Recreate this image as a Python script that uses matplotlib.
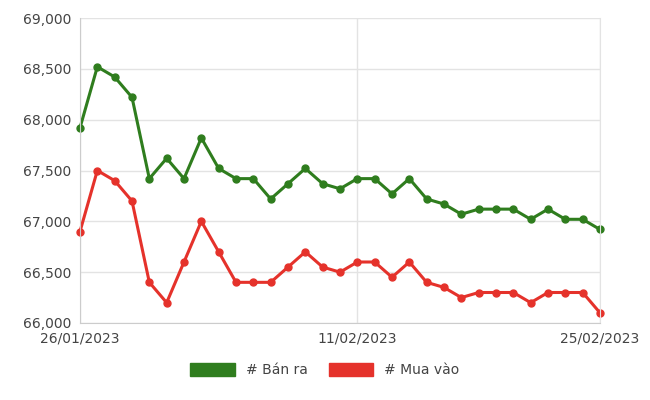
import matplotlib
matplotlib.use("Agg")
import matplotlib.pyplot as plt
from matplotlib.patches import Patch
from matplotlib.ticker import FuncFormatter

dates = ["26/01/2023", "11/02/2023", "25/02/2023"]
ban_ra = [67920, 68520, 68420, 68220, 67420, 67620, 67420, 67820, 67520, 67420,
          67420, 67220, 67370, 67520, 67370, 67320, 67420, 67420, 67270, 67420,
          67220, 67170, 67070, 67120, 67120, 67120, 67020, 67120, 67020, 67020, 66920]
mua_vao = [66900, 67500, 67400, 67200, 66400, 66200, 66600, 67000, 66700, 66400,
           66400, 66400, 66550, 66700, 66550, 66500, 66600, 66600, 66450, 66600,
           66400, 66350, 66250, 66300, 66300, 66300, 66200, 66300, 66300, 66300, 66100]

green = "#2f7d1e"
red = "#e5322b"

fig = plt.figure(figsize=(6.5, 4.0), dpi=100)
ax = fig.add_axes([80 / 650, 77 / 400, 520 / 650, 305 / 400])
x = list(range(len(ban_ra)))
ax.plot(x, ban_ra, color=green, lw=2.2, marker="o", ms=5, clip_on=False)
ax.plot(x, mua_vao, color=red, lw=2.2, marker="o", ms=5, clip_on=False)

ax.set_xlim(0, len(x) - 1)
ax.set_ylim(66000, 69000)
ax.set_yticks(range(66000, 69001, 500))
ax.yaxis.set_major_formatter(FuncFormatter(lambda v, p: f"{int(v):,}"))
ax.set_xticks([0, 16, 30])
ax.set_xticklabels(dates)
ax.grid(axis="y", color="#e3e3e3", lw=1)
ax.grid(axis="x", color="#e3e3e3", lw=1)
ax.set_axisbelow(True)
ax.spines["top"].set_visible(False)
ax.spines["right"].set_color("#e3e3e3")
for s in ["left", "bottom"]:
    ax.spines[s].set_color("#cccccc")
ax.tick_params(length=0, labelsize=10, colors="#444444", pad=6)

handles = [Patch(color=green, label="# Bán ra"), Patch(color=red, label="# Mua vào")]
fig.legend(handles=handles, loc="center", bbox_to_anchor=(0.5, 0.075), ncol=2,
           frameon=False, fontsize=10, handlelength=3.2, handleheight=1.1,
           columnspacing=1.5, labelcolor="#444444")

fig.savefig("out.png", dpi=100)
